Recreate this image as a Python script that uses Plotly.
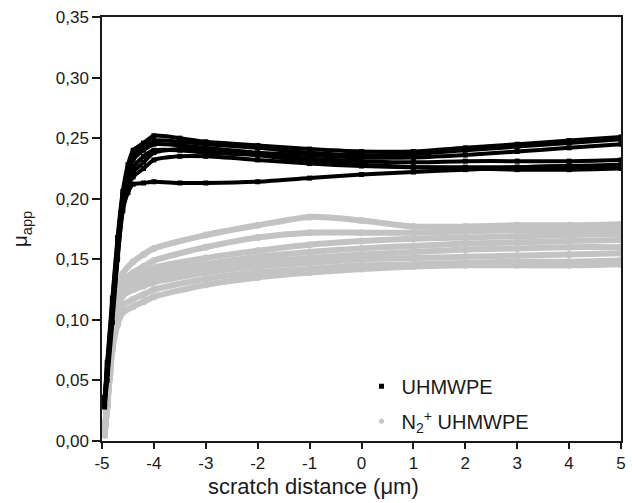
import plotly.graph_objects as go

# x positions (µm) at which curves were read
x_black = [-4.95, -4.9, -4.8, -4.7, -4.6, -4.5, -4.4, -4.2, -4.0, -3.5, -3.0, -2.0, -1.0, 0.0, 1.0, 2.0, 3.0, 4.0, 5.0]
uhmwpe = {
    "B1": [0.028, 0.050, 0.098, 0.150, 0.190, 0.205, 0.212, 0.213, 0.214, 0.213, 0.213, 0.214, 0.217, 0.220, 0.222, 0.224, 0.226, 0.227, 0.228],
    "B2": [0.032, 0.055, 0.105, 0.152, 0.192, 0.210, 0.218, 0.225, 0.232, 0.235, 0.235, 0.232, 0.229, 0.227, 0.226, 0.226, 0.226, 0.227, 0.227],
    "B3": [0.035, 0.058, 0.110, 0.158, 0.196, 0.215, 0.226, 0.235, 0.240, 0.240, 0.238, 0.236, 0.233, 0.231, 0.230, 0.231, 0.231, 0.231, 0.232],
    "B4": [0.030, 0.060, 0.112, 0.160, 0.200, 0.220, 0.232, 0.240, 0.245, 0.244, 0.242, 0.238, 0.236, 0.234, 0.234, 0.236, 0.239, 0.242, 0.245],
    "B5": [0.034, 0.062, 0.115, 0.165, 0.203, 0.224, 0.236, 0.243, 0.248, 0.247, 0.245, 0.242, 0.238, 0.236, 0.237, 0.240, 0.243, 0.246, 0.249],
    "B6": [0.036, 0.065, 0.118, 0.168, 0.206, 0.228, 0.240, 0.246, 0.252, 0.250, 0.247, 0.244, 0.241, 0.239, 0.239, 0.242, 0.245, 0.248, 0.251],
    "B7": [0.031, 0.056, 0.108, 0.155, 0.195, 0.212, 0.222, 0.230, 0.238, 0.241, 0.240, 0.236, 0.231, 0.228, 0.226, 0.225, 0.224, 0.224, 0.225],
}

x_gray = [-4.95, -4.9, -4.85, -4.8, -4.7, -4.6, -4.4, -4.2, -4.0, -3.0, -2.0, -1.0, 0.0, 1.0, 2.0, 3.0, 4.0, 5.0]
n2_uhmwpe = {
    "G1": [0.005, 0.030, 0.060, 0.085, 0.118, 0.138, 0.148, 0.154, 0.159, 0.170, 0.178, 0.185, 0.182, 0.177, 0.177, 0.178, 0.178, 0.179],
    "G2": [0.008, 0.032, 0.060, 0.085, 0.115, 0.132, 0.139, 0.144, 0.149, 0.160, 0.168, 0.172, 0.172, 0.172, 0.173, 0.174, 0.174, 0.175],
    "G3": [0.006, 0.030, 0.058, 0.082, 0.113, 0.129, 0.135, 0.139, 0.143, 0.151, 0.157, 0.162, 0.165, 0.167, 0.168, 0.169, 0.170, 0.171],
    "G4": [0.007, 0.031, 0.058, 0.083, 0.112, 0.127, 0.132, 0.135, 0.139, 0.146, 0.152, 0.156, 0.159, 0.161, 0.163, 0.164, 0.165, 0.166],
    "G5": [0.006, 0.030, 0.057, 0.082, 0.110, 0.124, 0.129, 0.132, 0.135, 0.143, 0.148, 0.151, 0.154, 0.156, 0.158, 0.159, 0.160, 0.160],
    "G6": [0.005, 0.029, 0.056, 0.080, 0.107, 0.120, 0.125, 0.128, 0.131, 0.139, 0.144, 0.147, 0.150, 0.151, 0.152, 0.153, 0.154, 0.155],
    "G7": [0.006, 0.030, 0.055, 0.078, 0.101, 0.112, 0.117, 0.121, 0.125, 0.134, 0.139, 0.142, 0.145, 0.146, 0.147, 0.148, 0.148, 0.149],
    "G8": [0.005, 0.028, 0.052, 0.075, 0.096, 0.106, 0.111, 0.115, 0.119, 0.129, 0.135, 0.139, 0.142, 0.144, 0.145, 0.145, 0.145, 0.146],
}

x_ticks = [-5, -4, -3, -2, -1, 0, 1, 2, 3, 4, 5]
y_ticks = [0.00, 0.05, 0.10, 0.15, 0.20, 0.25, 0.30, 0.35]
x_title = "scratch distance (μm)"
y_title = "μ<sub>app</sub>"

BLACK = "#000000"
GRAY = "#c3c3c3"
TEXT = "#1a1a1a"
FONT = "Liberation Sans, Arial, sans-serif"

fig = go.Figure()

for name, ys in n2_uhmwpe.items():
    fig.add_trace(go.Scatter(x=x_gray, y=ys, mode="lines+markers",
                             line=dict(color=GRAY, width=6, shape="spline", smoothing=0.6),
                             marker=dict(color=GRAY, size=7), showlegend=False, hoverinfo="skip"))
for name, ys in uhmwpe.items():
    fig.add_trace(go.Scatter(x=x_black, y=ys, mode="lines+markers",
                             line=dict(color=BLACK, width=4, shape="spline", smoothing=0.6),
                             marker=dict(color=BLACK, symbol="square", size=5), showlegend=False, hoverinfo="skip"))

# legend entries
fig.add_trace(go.Scatter(x=[None], y=[None], mode="markers", name="UHMWPE", legendgroup="a",
                         marker=dict(color=BLACK, symbol="square", size=5)))
fig.add_trace(go.Scatter(x=[None], y=[None], mode="markers", name="N<sub>2</sub><sup>+</sup> UHMWPE", legendgroup="b",
                         marker=dict(color=GRAY, symbol="circle", size=5)))

fig.add_annotation(text=x_title, xref="paper", yref="paper", x=0.408, y=0, yshift=-31,
                   xanchor="center", yanchor="top", showarrow=False,
                   font=dict(size=22, color=TEXT, family=FONT))

fig.update_layout(
    width=632, height=503,
    margin=dict(l=102, r=6, t=17, b=62),
    paper_bgcolor="white", plot_bgcolor="white",
    separators=", ",
    font=dict(family=FONT, size=17, color=TEXT),
    showlegend=True,
    legend=dict(x=0.5, y=0.175, xanchor="left", yanchor="top", bgcolor="rgba(0,0,0,0)",
                font=dict(size=20, color=TEXT), itemwidth=30, tracegroupgap=6,
                traceorder="grouped"),
    xaxis=dict(range=[-5, 5], tickvals=x_ticks, ticktext=[str(t) for t in x_ticks],
               showgrid=False, zeroline=False, showline=True, linecolor=TEXT, linewidth=1.5,
               mirror=True, ticks="outside", ticklen=6, tickwidth=1.5, tickcolor=TEXT,
               tickfont=dict(size=17)),
    yaxis=dict(range=[0, 0.35], tickvals=y_ticks, tickformat=".2f",
               showgrid=False, zeroline=False, showline=True, linecolor=TEXT, linewidth=1.5,
               mirror=True, ticks="outside", ticklen=8, tickwidth=1.5, tickcolor=TEXT,
               tickfont=dict(size=17),
               title=dict(text=y_title, font=dict(size=21), standoff=22)),
)

fig.write_html("out.html")
